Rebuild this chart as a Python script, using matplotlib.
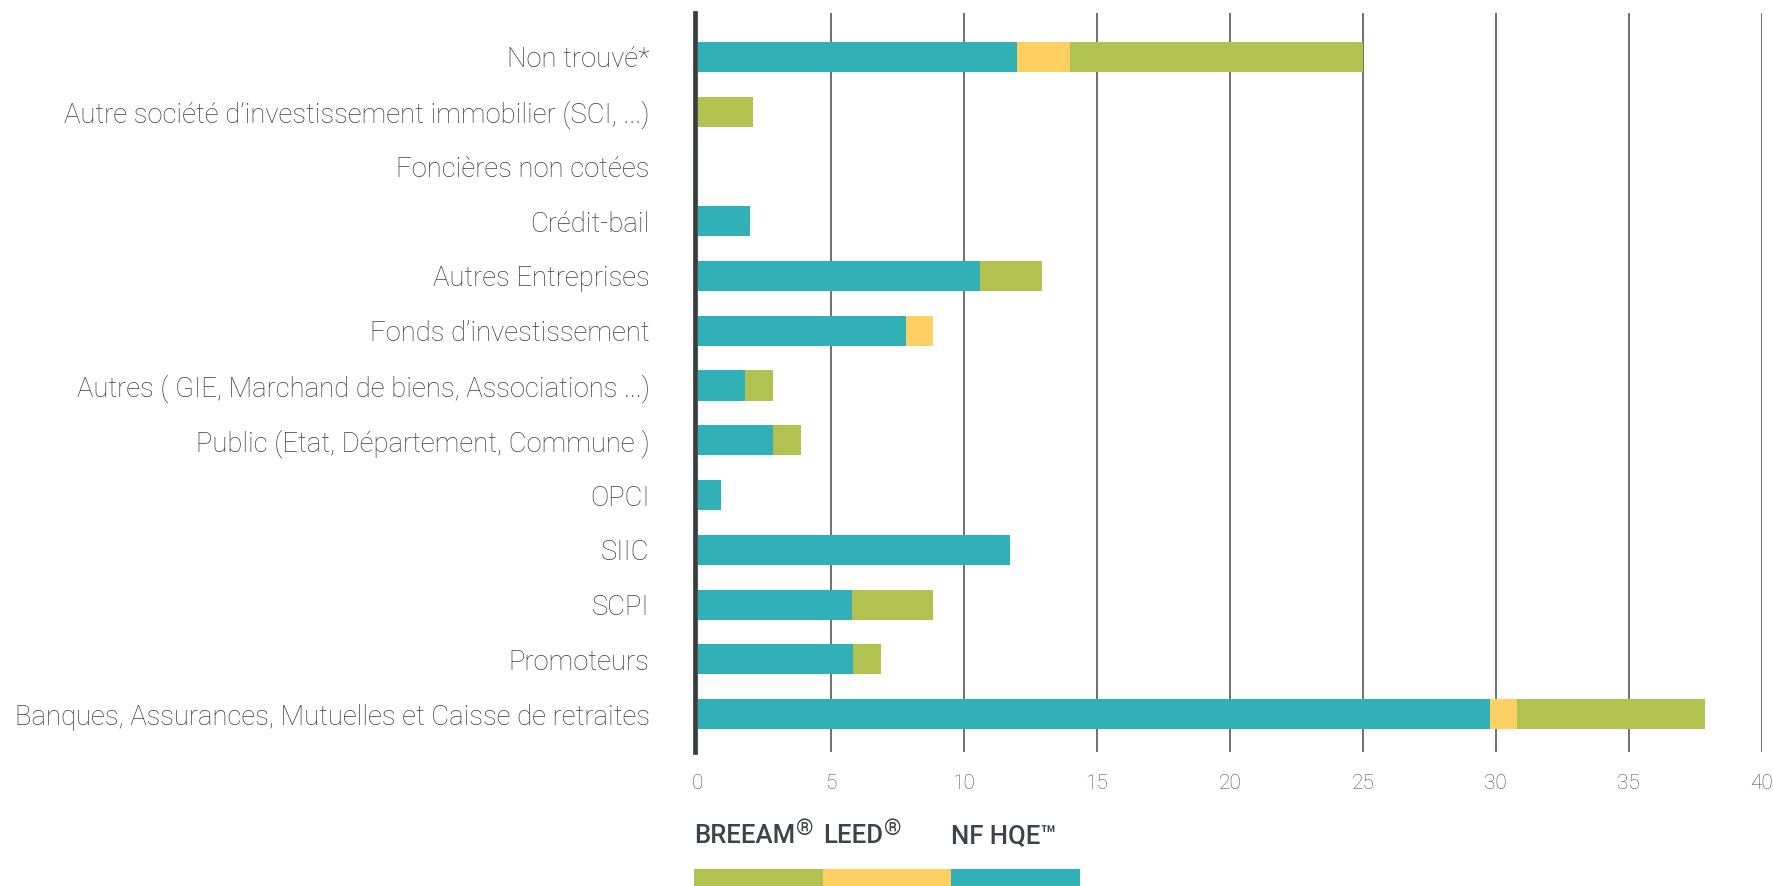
import matplotlib.pyplot as plt
import numpy as np

# Owner categories, listed top to bottom
categories = [
    "Non trouvé*",
    "Autre société d’investissement immobilier (SCI, ...)",
    "Foncières non cotées",
    "Crédit-bail",
    "Autres Entreprises",
    "Fonds d’investissement",
    "Autres ( GIE, Marchand de biens, Associations ...)",
    "Public (Etat, Département, Commune )",
    "OPCI",
    "SIIC",
    "SCPI",
    "Promoteurs",
    "Banques, Assurances, Mutuelles et Caisse de retraites",
]

nf_hqe = [12.0, 0.0, 0.0, 1.97, 10.6, 7.83, 1.78, 2.83, 0.88, 11.74, 5.8, 5.84, 29.8]
leed = [2.0, 0.0, 0.0, 0.0, 0.0, 1.0, 0.0, 0.0, 0.0, 0.0, 0.0, 0.0, 1.0]
breeam = [11.0, 2.08, 0.0, 0.0, 2.33, 0.0, 1.05, 1.05, 0.0, 0.0, 3.05, 1.05, 7.05]

x_ticks = [0, 5, 10, 15, 20, 25, 30, 35, 40]

# legend entries: (name, superscript mark)
legend_labels = [("BREEAM", "®"), ("LEED", "®"), ("NF HQE™", "")]

TEAL = "#32B0B7"
YELLOW = "#FED062"
GREEN = "#B2C251"
LABEL_GREY = "#3a3e41"
TICK_GREY = "#4e5256"
GRID_GREY = "#474a4c"

plt.rcParams["font.family"] = ["Roboto", "DejaVu Sans"]


def draw_bars(ax):
    y = np.arange(len(categories))[::-1]
    left = np.zeros(len(categories))
    for vals, color in [(nf_hqe, TEAL), (leed, YELLOW), (breeam, GREEN)]:
        vals = np.asarray(vals)
        ax.barh(y, vals, left=left, height=0.55, color=color, zorder=3)
        left += vals

    ax.set_xlim(0, 40)
    ax.set_ylim(-0.69, len(categories) - 0.2)
    ax.set_xticks(x_ticks)
    ax.set_xticklabels([str(t) for t in x_ticks])
    ax.set_yticks(y)
    ax.set_yticklabels(categories)

    for t in x_ticks[1:]:
        ax.axvline(t, color=GRID_GREY, linewidth=1.1, zorder=1)

    for side in ["top", "right", "bottom"]:
        ax.spines[side].set_visible(False)
    ax.spines["left"].set_linewidth(3.4)
    ax.spines["left"].set_color("#3a3d3d")
    ax.spines["left"].set_position(("outward", 1.7))

    ax.tick_params(axis="x", length=0, pad=16, labelsize=15, labelcolor=TICK_GREY)
    ax.tick_params(axis="y", length=0, pad=33, labelsize=19.8, labelcolor=LABEL_GREY)
    for lab in ax.get_xticklabels() + ax.get_yticklabels():
        lab.set_fontweight("light")


def draw_legend(fig):
    x0, x1 = 694 / 1774, 1080 / 1774
    lax = fig.add_axes([x0, 0.0, x1 - x0, 17 / 886])
    colors = [GREEN, YELLOW, TEAL]
    lax.barh([0] * 3, [1] * 3, left=[0, 1, 2], height=1.0, color=colors)
    lax.set_xlim(0, 3)
    lax.set_ylim(-0.5, 0.5)
    lax.axis("off")

    renderer = fig.canvas.get_renderer()
    seg = (x1 - x0) / 3
    base_y = 43 / 886
    for i, (name, mark) in enumerate(legend_labels):
        t = fig.text(x0 + i * seg, base_y, name, ha="left", va="baseline",
                     fontsize=18.5, fontweight="medium", color="#3d4449")
        if mark:
            bb = t.get_window_extent(renderer=renderer)
            fig.text(bb.x1 / fig.bbox.width + 1 / 1774, base_y + 8 / 886, mark,
                     ha="left", va="baseline", fontsize=16, color="#3d4449")


def main():
    fig = plt.figure(figsize=(17.74, 8.86), dpi=100)
    ax = fig.add_axes([697.7 / 1774, 134 / 886, 1064 / 1774, 739 / 886])
    draw_bars(ax)
    draw_legend(fig)
    fig.savefig("out.png", dpi=100)
    plt.close(fig)


if __name__ == "__main__":
    main()
